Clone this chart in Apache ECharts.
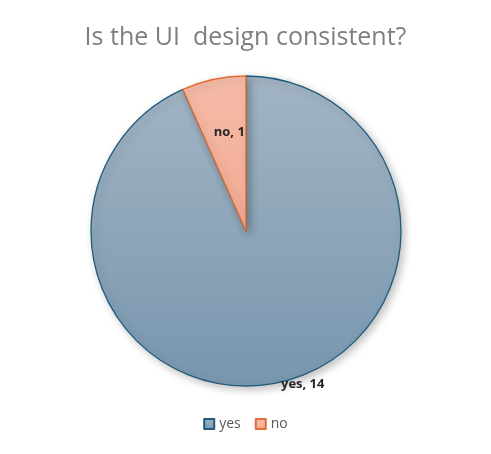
<!DOCTYPE html>
<html>
<head>
<meta charset="utf-8">
<script src="https://cdn.jsdelivr.net/npm/echarts@6/dist/echarts.min.js"></script>
<style>html,body{margin:0;padding:0;background:#fff}#chart{width:491px;height:454px}</style>
</head>
<body>
<div id="chart"></div>
<script>
var categories = ['yes', 'no'];
var values = [14, 1];

var myChart = echarts.init(document.getElementById('chart'));
var fills = [
    new echarts.graphic.LinearGradient(0, 0, 0, 1, [{offset: 0, color: '#a3b5c4'}, {offset: 1, color: '#7896ae'}]),
    new echarts.graphic.LinearGradient(0, 0, 0, 1, [{offset: 0, color: '#f6bba8'}, {offset: 1, color: '#f2aa92'}])
];
var borders = ['#1f5b7c', '#e56d35'];
var option = {
    title: {
        text: 'Is the UI  design consistent?',
        left: 'center',
        top: 20,
        textStyle: {color: '#7f7f7f', fontSize: 25, fontWeight: 'normal', fontFamily: 'Open Sans'}
    },
    legend: {
        bottom: 18,
        left: 'center',
        itemWidth: 10,
        itemHeight: 10,
        itemGap: 14,
        icon: 'rect',
        textStyle: {color: '#595959', fontSize: 14, fontFamily: 'Open Sans'},
        data: categories
    },
    series: [{
        type: 'pie',
        center: [246, 231],
        radius: 155,
        startAngle: 90,
        clockwise: true,
        label: {
            position: 'inside',
            formatter: '{b}, {c}',
            color: '#262626',
            fontSize: 13,
            fontWeight: 'bold',
            fontFamily: 'Open Sans'
        },
        labelLine: {show: false},
        data: categories.map(function (c, i) {
            return {
                name: c,
                value: values[i],
                itemStyle: {
                    color: fills[i],
                    borderColor: borders[i],
                    borderWidth: 1.3,
                    shadowBlur: 8,
                    shadowOffsetX: 3,
                    shadowOffsetY: 3,
                    shadowColor: 'rgba(0,0,0,0.25)'
                },
                label: i === 0 ? {position: 'inside', offset: [40, 75]} : {offset: [0, -20]}
            };
        })
    }]
};
myChart.setOption(option);
</script>
</body>
</html>
